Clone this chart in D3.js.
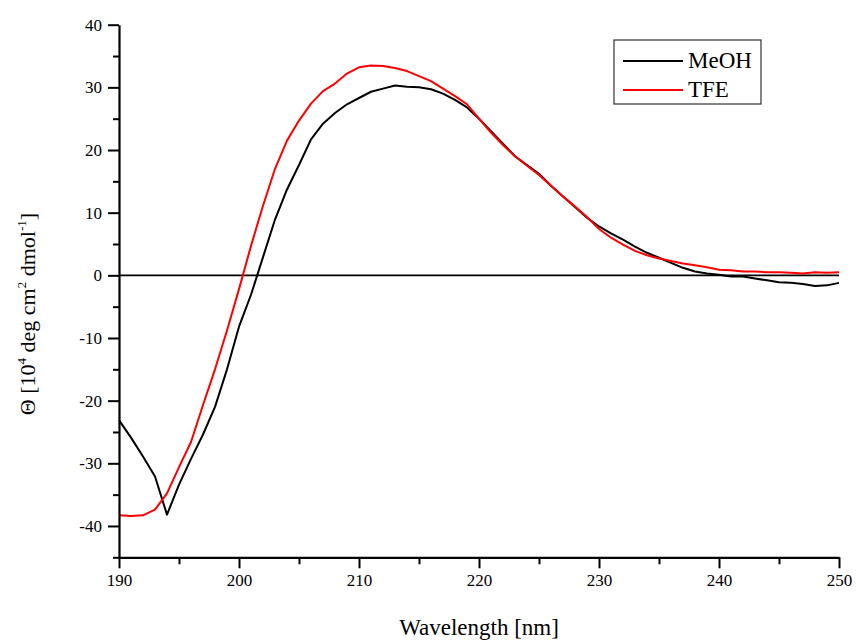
<!DOCTYPE html>
<html>
<head>
<meta charset="utf-8">
<script src="https://cdn.jsdelivr.net/npm/d3@7"></script>
<style>
  html, body { margin: 0; padding: 0; background: #fff; }
  svg { display: block; }
  svg text { font-family: "Liberation Serif", "Times New Roman", serif; fill: #000; }
</style>
</head>
<body>
<svg id="chart" width="856" height="642"></svg>
<script>
// CD spectra: wavelength (nm) and mean residue ellipticity (10^4 deg cm^2 dmol^-1)
const wavelengths = d3.range(190, 251, 1);

const meohValues = [
  -23.1, -25.9, -28.9, -32.1, -38.2, -33.4, -29.3, -25.4, -21.0, -15.0,
  -8.2, -3.1, 2.9, 8.9, 13.7, 17.6, 21.7, 24.2, 25.9, 27.3,
  28.3, 29.3, 29.8, 30.3, 30.1, 30.0, 29.7, 29.0, 28.0, 26.8,
  25.0, 23.0, 21.0, 19.0, 17.6, 16.2, 14.3, 12.6, 10.9, 9.2,
  7.8, 6.7, 5.7, 4.6, 3.6, 2.8, 2.0, 1.2, 0.6, 0.3,
  0.1, -0.2, -0.2, -0.5, -0.8, -1.1, -1.2, -1.4, -1.7, -1.6,
  -1.2
];

const tfeValues = [
  -38.3, -38.4, -38.3, -37.4, -34.8, -30.6, -26.6, -20.7, -15.0, -8.8,
  -2.2, 4.7, 11.1, 17.0, 21.5, 24.7, 27.4, 29.4, 30.6, 32.2,
  33.2, 33.5, 33.4, 33.1, 32.6, 31.8, 31.0, 29.8, 28.6, 27.3,
  25.0, 22.8, 20.8, 19.0, 17.5, 16.0, 14.3, 12.6, 11.0, 9.3,
  7.4, 6.0, 4.9, 3.9, 3.2, 2.7, 2.3, 1.9, 1.6, 1.3,
  0.9, 0.8, 0.6, 0.6, 0.5, 0.5, 0.4, 0.3, 0.5, 0.4,
  0.5
];

const seriesNames = ["MeOH", "TFE"];
const seriesColors = ["#000000", "#ff0000"];

const xMajorTicks = [190, 200, 210, 220, 230, 240, 250];
const xMinorTicks = [195, 205, 215, 225, 235, 245];
const yMajorTicks = [-40, -30, -20, -10, 0, 10, 20, 30, 40];
const yMinorTicks = [-45, -35, -25, -15, -5, 5, 15, 25, 35];

const serif = "'Liberation Serif', 'Times New Roman', serif";
const svg = d3.select("#chart");

const x = d3.scaleLinear().domain([190, 250]).range([119, 839]);
// bottom axis sits at -45, top tick is 40
const y = d3.scaleLinear().domain([-45, 40]).range([557.3, 24.7]);

// zero baseline
svg.append("line")
  .attr("x1", x(190)).attr("x2", x(250))
  .attr("y1", y(0)).attr("y2", y(0))
  .attr("stroke", "#000").attr("stroke-width", 1.6);

// data lines
const series = [meohValues, tfeValues];
const line = d3.line()
  .x((d, i) => x(wavelengths[i]))
  .y(d => y(d));

series.forEach((vals, k) => {
  svg.append("path")
    .datum(vals)
    .attr("fill", "none")
    .attr("stroke", seriesColors[k])
    .attr("stroke-width", 2)
    .attr("stroke-linejoin", "round")
    .attr("d", line);
});

const plainFormat = d => String(d);

// bottom axis
const xAxis = svg.append("g").attr("transform", `translate(0,${y(-45)})`);
xAxis.call(d3.axisBottom(x).tickValues(xMajorTicks).tickSize(11).tickSizeOuter(0).tickFormat(plainFormat));
xAxis.append("g").call(d3.axisBottom(x).tickValues(xMinorTicks).tickSize(7).tickSizeOuter(0).tickFormat(""))
  .select(".domain").remove();

// left axis
const yAxis = svg.append("g").attr("transform", `translate(${x(190)},0)`);
yAxis.call(d3.axisLeft(y).tickValues(yMajorTicks).tickSize(11).tickSizeOuter(0).tickFormat(plainFormat));
yAxis.append("g").call(d3.axisLeft(y).tickValues(yMinorTicks).tickSize(6).tickSizeOuter(0).tickFormat(""))
  .select(".domain").remove();

svg.selectAll("g").attr("font-family", null);
svg.selectAll(".domain").attr("stroke", "#000").attr("stroke-width", 2.2);
svg.selectAll(".tick line").attr("stroke", "#000").attr("stroke-width", 2);
svg.selectAll(".tick text")
  .style("font-family", serif)
  .style("font-size", "17px")
  .attr("fill", "#000");
xAxis.selectAll(".tick text").attr("dy", "0.9em").attr("y", 13);
yAxis.selectAll(".tick text").attr("x", -17);

// axis titles
svg.append("text")
  .attr("x", (x(190) + x(250)) / 2)
  .attr("y", 635)
  .attr("text-anchor", "middle")
  .style("font-family", serif)
  .style("font-size", "23px")
  .text("Wavelength [nm]");

const yTitle = svg.append("text")
  .attr("transform", `translate(35,314) rotate(-90)`)
  .attr("text-anchor", "middle")
  .style("font-family", serif)
  .style("font-size", "22px");
yTitle.append("tspan").text("Θ [10");
yTitle.append("tspan").style("font-size", "13px").attr("dy", -9).text("4");
yTitle.append("tspan").attr("dy", 9).text(" deg cm");
yTitle.append("tspan").style("font-size", "13px").attr("dy", -9).text("2");
yTitle.append("tspan").attr("dy", 9).text(" dmol");
yTitle.append("tspan").style("font-size", "13px").attr("dy", -9).text("-1");
yTitle.append("tspan").attr("dy", 9).text("]");

// legend
const legend = svg.append("g");
legend.append("rect")
  .attr("x", 614).attr("y", 40).attr("width", 147).attr("height", 64)
  .attr("fill", "#fff").attr("stroke", "#333").attr("stroke-width", 1.2);
seriesNames.forEach((name, i) => {
  const ly = 61 + i * 29;
  legend.append("line")
    .attr("x1", 623).attr("x2", 683).attr("y1", ly).attr("y2", ly)
    .attr("stroke", seriesColors[i]).attr("stroke-width", 2);
  legend.append("text")
    .attr("x", 688).attr("y", ly + 7)
    .style("font-family", serif)
    .style("font-size", "23px")
    .text(name);
});
</script>
</body>
</html>
